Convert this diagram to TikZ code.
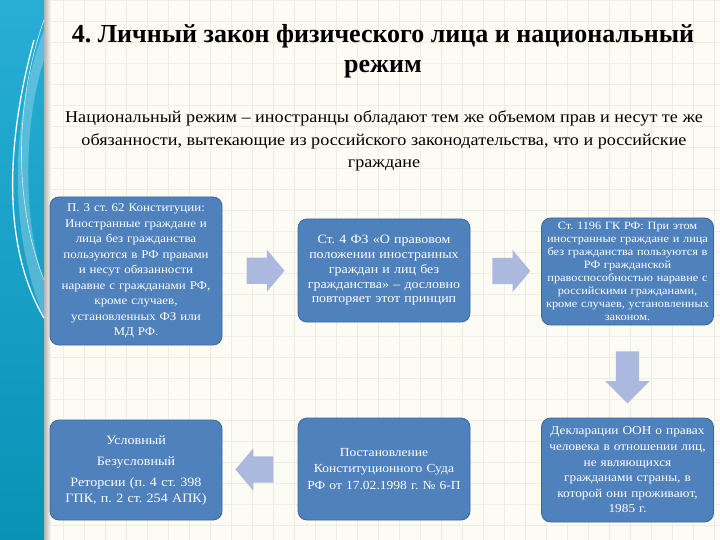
\documentclass[tikz,border=0pt]{standalone}
\usepackage{fontspec}
\setmainfont{Liberation Serif}
\newfontfamily\wideserif{Liberation Serif}[FakeStretch=1.1]
\usetikzlibrary{shapes.arrows,calc}
\frenchspacing

\definecolor{boxblue}{RGB}{79,129,189}
\definecolor{boxedge}{RGB}{60,102,156}
\definecolor{arrowblue}{RGB}{172,185,222}
\definecolor{paper}{RGB}{252,251,244}
\definecolor{gridc}{RGB}{238,237,225}
\definecolor{stripa}{RGB}{40,174,214}
\definecolor{stripb}{RGB}{8,146,182}

\newcommand\boxfont[2]{\wideserif\fontsize{#1}{#2}\selectfont}

\tikzset{
  infobox/.style={rounded corners=9pt, fill=boxblue, draw=boxedge, line width=0.8pt,
    text=white, align=center, inner sep=2pt, text width=168pt,
    font=\boxfont{12}{15.5}},
  blockarrow/.style={single arrow, fill=arrowblue, draw=none, inner sep=13pt,
    minimum height=38pt, single arrow head extend=8pt,
    single arrow tip angle=100},
}

\begin{document}
\begin{tikzpicture}[x=1pt, y=-1pt]

    % fundo quadriculado
    \useasboundingbox (0,0) rectangle (720,540);
    \fill[paper] (0,0) rectangle (720,540);
    \draw[gridc, line width=0.5pt, step=21pt] (0,0) grid (720,540);

    % faixa lateral
    \shade[top color=stripa, bottom color=stripb] (0,0) rectangle (44,540);
    \shade[left color=black!30, right color=paper] (44,0) rectangle (51,540);
    \fill[white, opacity=0.25] (44,30) .. controls (10,120) and (8,230) .. (44,318)
        -- (44,280) .. controls (22,220) and (24,120) .. (44,60) -- cycle;
    \draw[white, line width=1.3pt] (34,40) .. controls (4,150) and (4,250) .. (44,318);
    \draw[white!80!stripa, line width=0.6pt] (44,20) .. controls (12,110) and (16,210) .. (44,280);

    % titulo e definicao
    \node[font=\bfseries\fontsize{26}{30}\selectfont, align=center] (title) at (383,51)
        {4. Личный закон физического лица и национальный\\режим};
    \node[font=\boxfont{16.5}{22.5}, align=center] (intro) at (384,141)
        {Национальный режим – иностранцы обладают тем же объемом прав и несут те же\\
         обязанности, вытекающие из российского законодательства, что и российские\\
         граждане};

    % caixas
    \node[infobox, minimum height=148pt, font=\boxfont{11.8}{15.5}] (st62) at (136,271)
        {П. 3 ст. 62 Конституции:\\Иностранные граждане и\\лица без гражданства\\
         пользуются в РФ правами\\и несут обязанности\\наравне с гражданами РФ,\\
         кроме случаев,\\установленных ФЗ или\\МД РФ.};
    \node[infobox, minimum height=103pt, font=\boxfont{12.7}{14.8}] (fz4) at (384,270.5)
        {Ст. 4 ФЗ «О правовом\\положении иностранных\\граждан и лиц без\\
         гражданства» – дословно\\повторяет этот принцип};
    \node[infobox, minimum height=107pt, font=\boxfont{11.2}{13}] (gk1196) at (627.5,271.5)
        {Ст. 1196 ГК РФ: При этом\\иностранные граждане и лица\\без гражданства пользуются в\\
         РФ гражданской\\правоспособностью наравне с\\российскими гражданами,\\
         кроме случаев, установленных\\законом.};
    \node[infobox, minimum height=104pt, font=\boxfont{12.1}{15.6}] (decl) at (627.5,470)
        {Декларации ООН о правах\\человека в отношении лиц,\\не являющихся\\
         гражданами страны, в\\которой они проживают,\\1985 г.};
    \node[infobox, minimum height=102pt, font=\boxfont{12.3}{16.5}] (postan) at (384,469)
        {Постановление\\Конституционного Суда\\РФ от 17.02.1998 г. № 6-П};
    \node[infobox, minimum height=100pt, font=\boxfont{12.8}{16}] (kinds) at (136,470)
        {Условный\\[5pt]Безусловный\\[5pt]Реторсии (п. 4 ст. 398\\ГПК, п. 2 ст. 254 АПК)};

    % setas largas entre as caixas
    \node[blockarrow] (arrA) at ($(st62.east)!0.5!(fz4.west)$) {};
    \node[blockarrow] (arrB) at ($(fz4.east)!0.5!(gk1196.west)$) {};
    \node[blockarrow, shape border rotate=270, inner sep=11.5pt, minimum height=52pt,
          single arrow head extend=10.5pt, single arrow tip angle=90] (arrC)
        at ($(gk1196.south)!0.5!(decl.north)$) {};
    \node[blockarrow, shape border rotate=180] (arrD) at ($(postan.west)!0.5!(kinds.east)$) {};

\end{tikzpicture}
\end{document}
